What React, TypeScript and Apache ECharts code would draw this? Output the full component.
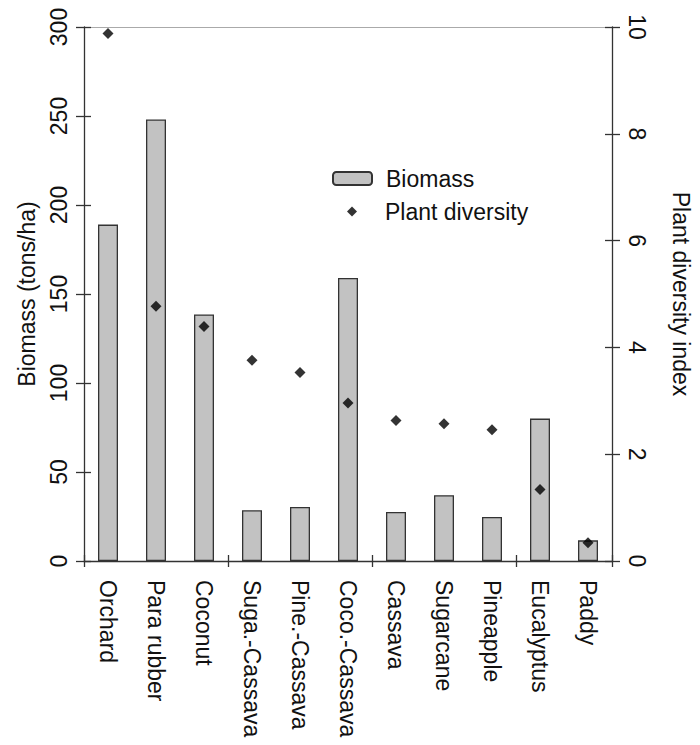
import React, { useEffect, useRef } from "react";
import * as echarts from "echarts";

const categories = [
  "Orchard",
  "Para rubber",
  "Coconut",
  "Suga.-Cassava",
  "Pine.-Cassava",
  "Coco.-Cassava",
  "Cassava",
  "Sugarcane",
  "Pineapple",
  "Eucalyptus",
  "Paddy",
];
const biomass = [189, 248, 138.5, 28.5, 30.3, 159, 27.5, 37, 24.7, 80, 11.6];
const plantDiversity = [9.88, 4.77, 4.39, 3.76, 3.53, 2.96, 2.63, 2.57, 2.46, 1.34, 0.34];
const biomassTicks = { min: 0, max: 300, interval: 50 };
const diversityTicks = { min: 0, max: 10, interval: 2 };

const FONT = "Liberation Sans";
const FS = 23;
const AXIS = "#333";

export default function App() {
  const ref = useRef<HTMLDivElement>(null);
  useEffect(() => {
    document.body.style.margin = "0";
    const chart = echarts.init(ref.current!, null, { renderer: "svg" });
    const labelStyle = { fontFamily: FONT, fontSize: FS, color: "#111" };
    const line = { show: true, onZero: false, lineStyle: { color: AXIS, width: 1.3 } };
    const noLine = { show: false, onZero: false };
    const tick = { show: true, lineStyle: { color: AXIS, width: 1.3 } };
    chart.setOption({
      animation: false,
      backgroundColor: "#fff",
      grid: { left: 84, right: 83, top: 27, bottom: 184 },
      legend: [
        {
          data: ["Biomass"],
          left: 332,
          top: 167,
          itemWidth: 39,
          itemHeight: 13,
          padding: 0,
          textStyle: { ...labelStyle, padding: [0, 0, 0, 9] },
          selectedMode: false,
        },
        {
          data: [{ name: "Plant diversity", icon: "diamond" }],
          left: 347,
          top: 200,
          itemWidth: 10,
          itemHeight: 10,
          padding: 0,
          textStyle: { ...labelStyle, padding: [0, 0, 0, 23] },
          selectedMode: false,
        },
      ],
      xAxis: [
        {
          type: "category",
          data: categories,
          position: "bottom",
          axisLine: line,
          axisTick: { show: false },
          axisLabel: { ...labelStyle, rotate: -90, margin: 19, interval: 0 },
        },
        {
          type: "category",
          data: categories,
          position: "bottom",
          offset: -6,
          axisLine: noLine,
          axisTick: { ...tick, length: 12 },
          axisLabel: { show: false },
        },
        {
          type: "category",
          data: categories,
          position: "top",
          axisLine: { show: true, onZero: false, lineStyle: { color: "#aaa", width: 1 } },
          axisTick: { show: false },
          axisLabel: { show: false },
        },
      ],
      yAxis: [
        {
          type: "value",
          position: "left",
          ...biomassTicks,
          name: "Biomass (tons/ha)",
          nameLocation: "middle",
          nameRotate: 90,
          nameGap: 46,
          nameTextStyle: labelStyle,
          splitLine: { show: false },
          axisLine: line,
          axisTick: { show: false },
          axisLabel: { ...labelStyle, rotate: 90, margin: 14 },
        },
        {
          type: "value",
          position: "left",
          offset: -7,
          ...biomassTicks,
          splitLine: { show: false },
          axisLine: noLine,
          axisTick: { ...tick, length: 15 },
          axisLabel: { show: false },
        },
        {
          type: "value",
          position: "right",
          ...diversityTicks,
          name: "Plant diversity index",
          nameLocation: "middle",
          nameRotate: -90,
          nameGap: 57,
          nameTextStyle: labelStyle,
          splitLine: { show: false },
          axisLine: line,
          axisTick: { show: false },
          axisLabel: { ...labelStyle, rotate: -90, margin: 13 },
        },
        {
          type: "value",
          position: "right",
          offset: -7,
          ...diversityTicks,
          splitLine: { show: false },
          axisLine: noLine,
          axisTick: { ...tick, length: 15 },
          axisLabel: { show: false },
        },
      ],
      series: [
        {
          name: "Biomass",
          type: "bar",
          xAxisIndex: 0,
          yAxisIndex: 0,
          data: biomass,
          barWidth: 20,
          itemStyle: { color: "#c2c2c2", borderColor: "#333", borderWidth: 1.3 },
        },
        {
          name: "Plant diversity",
          type: "scatter",
          xAxisIndex: 0,
          yAxisIndex: 2,
          data: plantDiversity,
          symbol: "diamond",
          symbolSize: 11,
          itemStyle: { color: "#000" },
        },
      ],
    });
    return () => chart.dispose();
  }, []);
  return <div ref={ref} style={{ width: 700, height: 745 }} />;
}
